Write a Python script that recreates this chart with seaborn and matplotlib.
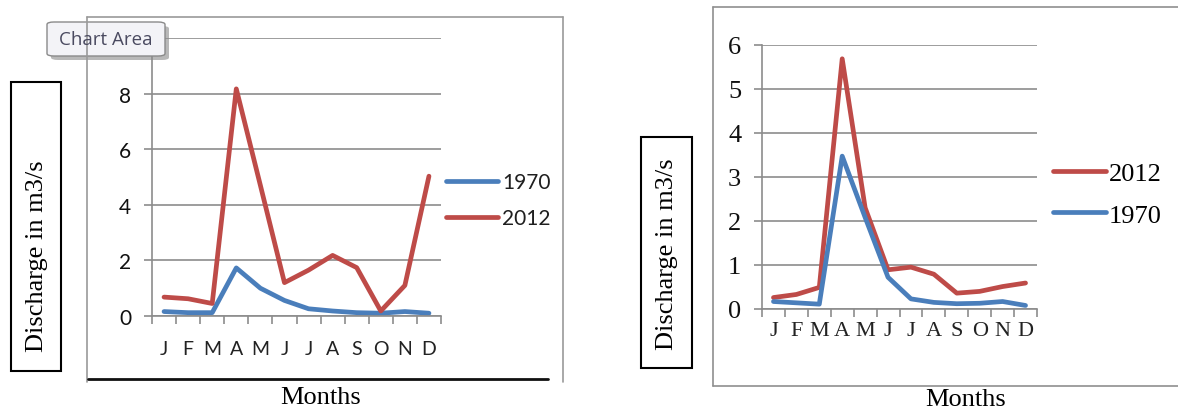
import numpy as np
import pandas as pd
import matplotlib
matplotlib.use("Agg")
import matplotlib.pyplot as plt
from matplotlib.patches import Rectangle, FancyBboxPatch
from matplotlib.lines import Line2D
from matplotlib.ticker import FixedLocator
import seaborn as sns

# Monthly discharge (m3/s)
months = ["J", "F", "M", "A", "M", "J", "J", "A", "S", "O", "N", "D"]
left_1970 = [0.16, 0.12, 0.12, 1.73, 1.00, 0.56, 0.26, 0.18, 0.12, 0.10, 0.16, 0.10]
left_2012 = [0.68, 0.62, 0.45, 8.17, 4.70, 1.20, 1.65, 2.18, 1.74, 0.18, 1.10, 5.03]
right_2012 = [0.26, 0.33, 0.49, 5.68, 2.30, 0.89, 0.95, 0.79, 0.36, 0.40, 0.51, 0.59]
right_1970 = [0.17, 0.14, 0.11, 3.47, 2.08, 0.72, 0.23, 0.15, 0.12, 0.13, 0.17, 0.08]
left_yticks = [0, 2, 4, 6, 8, 10]
left_yticklabels = ["0", "2", "4", "6", "8", ""]   # top label sits under the tag
right_yticks = [0, 1, 2, 3, 4, 5, 6]
right_yticklabels = ["0", "1", "2", "3", "4", "5", "6"]

BLUE = "#4A7EBB"
RED = "#BE4B48"
GRID = "#8C8C8C"

W, H = 1178, 410
sns.set_style("white")
fig = plt.figure(figsize=(W / 100, H / 100), dpi=100)
fig.patch.set_facecolor("white")

SANS = ["Lato", "DejaVu Sans"]
SERIF = ["Liberation Serif", "DejaVu Serif"]


def frac(x0, y0, x1, y1):
    return [x0 / W, 1 - y1 / H, (x1 - x0) / W, (y1 - y0) / H]


def long_frame(series):
    rows = []
    for name, vals in series:
        for i, v in enumerate(vals):
            rows.append({"pos": i, "month": months[i], "year": name, "q": v})
    return pd.DataFrame(rows)


def style_axes(ax, ymax, yticks, ylabels, family, ysize, xsize, xpad, ypad):
    ax.set_xlim(-0.5, len(months) - 0.5)
    ax.set_ylim(0, ymax)
    ax.set_yticks(yticks)
    ax.set_yticklabels(ylabels, family=family, fontsize=ysize, color="#111111")
    ax.set_xticks(range(len(months)))
    ax.set_xticklabels(months, family=family, fontsize=xsize, color="#222222")
    ax.xaxis.set_minor_locator(FixedLocator(np.arange(-0.5, len(months), 1.0)))
    ax.tick_params(axis="x", which="major", length=0, pad=xpad)
    ax.tick_params(axis="x", which="minor", length=6, width=1.2, color=GRID, direction="out", bottom=True)
    ax.tick_params(axis="y", which="major", length=6, width=1.2, color=GRID, pad=ypad, left=True)
    ax.grid(axis="y", color=GRID, linewidth=1.2)
    ax.grid(axis="x", visible=False)
    for side in ("top", "right"):
        ax.spines[side].set_visible(False)
    for side in ("left", "bottom"):
        ax.spines[side].set_color(GRID)
        ax.spines[side].set_linewidth(1.2)
    ax.set_xlabel("")
    ax.set_ylabel("")
    ax.set_facecolor("white")


# ---------------- left chart ----------------
axL = fig.add_axes(frac(152, 39, 441, 317))
dfL = long_frame([("1970", left_1970), ("2012", left_2012)])
sns.lineplot(data=dfL, x="pos", y="q", hue="year", palette={"1970": BLUE, "2012": RED},
             linewidth=3.4, ax=axL, legend=False, sort=False)
style_axes(axL, 10, left_yticks, left_yticklabels, SANS, 15, 14, 17, 9)

hL = [Line2D([], [], color=BLUE, lw=3.4, solid_capstyle="round"),
      Line2D([], [], color=RED, lw=3.4, solid_capstyle="round")]
legL = fig.legend(hL, ["1970", "2012"], loc="center left",
                  bbox_to_anchor=(446 / W, 1 - 201 / H), frameon=False,
                  prop={"family": SANS, "size": 15}, handlelength=2.5, handletextpad=0.2,
                  labelspacing=0.75, borderpad=0, borderaxespad=0)
for t in legL.get_texts():
    t.set_color("#1f1f1f")

# chart-area frame
for (x0, y0, x1, y1, c, lw) in [(87, 18, 563, 18, "#9a9a9a", 1.2),
                                (87, 18, 87, 383, "#9a9a9a", 1.2),
                                (563, 18, 563, 383, "#9a9a9a", 1.2),
                                (88, 379.5, 548, 379.5, "#111111", 2.0)]:
    fig.add_artist(Line2D([x0 / W, x1 / W], [1 - y0 / H, 1 - y1 / H], color=c, lw=lw))

# y-label box
fig.add_artist(Rectangle((11 / W, 1 - 372 / H), 50 / W, 289 / H, fill=False,
                         edgecolor="black", lw=1.5))
fig.text(37 / W, 1 - 256 / H, "Discharge in m3/s", rotation=90, ha="center", va="center",
         family=SERIF, fontsize=19, color="black")
fig.text(321 / W, 1 - 398 / H, "Months", ha="center", va="center",
         family=SERIF, fontsize=19, color="black")

# "Chart Area" tag
fig.add_artist(FancyBboxPatch((51 / W, 1 - 61 / H), 118 / W, 34 / H,
                              boxstyle="round,pad=0,rounding_size=0.006",
                              facecolor="#8a8a8a", edgecolor="none", alpha=0.6))
fig.add_artist(FancyBboxPatch((47 / W, 1 - 57 / H), 118 / W, 34 / H,
                              boxstyle="round,pad=0,rounding_size=0.006",
                              facecolor="#f3f3f7", edgecolor="#8a8a8a", lw=1.0))
fig.text(106 / W, 1 - 40 / H, "Chart Area", ha="center", va="center",
         family=["Open Sans", "DejaVu Sans"], fontsize=13.5, color="#4a4a60")

# ---------------- right chart ----------------
axR = fig.add_axes(frac(762, 45.7, 1037, 310))
dfR = long_frame([("2012", right_2012), ("1970", right_1970)])
sns.lineplot(data=dfR, x="pos", y="q", hue="year", palette={"2012": RED, "1970": BLUE},
             linewidth=3.4, ax=axR, legend=False, sort=False)
style_axes(axR, 6, right_yticks, right_yticklabels, SERIF, 19, 16, 9, 9)

hR = [Line2D([], [], color=RED, lw=3.4, solid_capstyle="round"),
      Line2D([], [], color=BLUE, lw=3.4, solid_capstyle="round")]
legR = fig.legend(hR, ["2012", "1970"], loc="center left",
                  bbox_to_anchor=(1053 / W, 1 - 195 / H), frameon=False,
                  prop={"family": SERIF, "size": 19}, handlelength=2.0, handletextpad=0.12,
                  labelspacing=0.7, borderpad=0, borderaxespad=0)
for t in legR.get_texts():
    t.set_color("black")

for (x0, y0, x1, y1) in [(713, 7.5, 1178, 7.5), (713, 7.5, 713, 387), (713, 387, 1178, 387)]:
    fig.add_artist(Line2D([x0 / W, x1 / W], [1 - y0 / H, 1 - y1 / H], color="#8f8f8f", lw=1.2))

fig.add_artist(Rectangle((641 / W, 1 - 369 / H), 51 / W, 231 / H, fill=False,
                         edgecolor="black", lw=1.5))
fig.text(667 / W, 1 - 254 / H, "Discharge in m3/s", rotation=90, ha="center", va="center",
         family=SERIF, fontsize=19, color="black")
fig.text(966 / W, 1 - 400 / H, "Months", ha="center", va="center",
         family=SERIF, fontsize=19, color="black")

fig.savefig("out.png", dpi=100, facecolor="white")
